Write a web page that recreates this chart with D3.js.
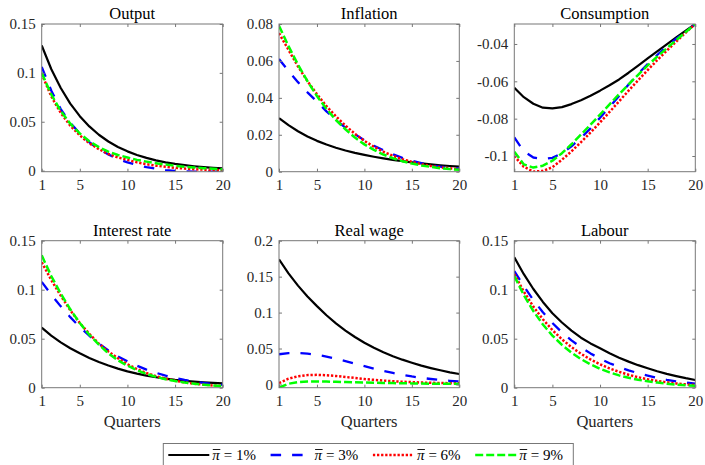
<!DOCTYPE html>
<html>
<head>
<meta charset="utf-8">
<script src="https://cdn.jsdelivr.net/npm/d3@7"></script>
<style>
  body { margin: 0; background: #fff; }
  svg { display: block; }
  svg text { font-family: "Liberation Serif", "Times New Roman", Times, "DejaVu Serif", serif; }
</style>
</head>
<body>
<svg id="chart" width="705" height="465"></svg>
<script>
// Impulse responses over 20 quarters for four steady-state inflation rates
const quarters = [1, 2, 3, 4, 5, 6, 7, 8, 9, 10, 11, 12, 13, 14, 15, 16, 17, 18, 19, 20];
const inflationTargets = ["1%", "3%", "6%", "9%"];
const xTicks = [1, 5, 10, 15, 20];

const outputPi1 = [0.128, 0.104, 0.0845, 0.0686, 0.0557, 0.0452, 0.0367, 0.0298, 0.0242, 0.0197, 0.0160, 0.0130, 0.0105, 0.0085, 0.0069, 0.0056, 0.0045, 0.0036, 0.0029, 0.0023];
const outputPi3 = [0.106, 0.082, 0.063, 0.049, 0.038, 0.029, 0.022, 0.0165, 0.012, 0.0085, 0.0058, 0.0036, 0.0019, 0.0006, -0.0003, -0.0008, -0.0010, -0.0011, -0.0011, -0.0010];
const outputPi6 = [0.099, 0.076, 0.059, 0.046, 0.036, 0.028, 0.022, 0.017, 0.0135, 0.011, 0.0085, 0.0066, 0.0051, 0.0039, 0.0029, 0.0021, 0.0015, 0.0010, 0.0006, 0.0003];
const outputPi9 = [0.100, 0.078, 0.061, 0.048, 0.038, 0.030, 0.024, 0.0195, 0.016, 0.0135, 0.011, 0.0092, 0.0076, 0.0062, 0.0050, 0.0040, 0.0032, 0.0025, 0.0019, 0.0014];

const inflationPi1 = [0.029, 0.0252, 0.0219, 0.0191, 0.0167, 0.0147, 0.0130, 0.0115, 0.0102, 0.0091, 0.0081, 0.0072, 0.0064, 0.0057, 0.0051, 0.0045, 0.0040, 0.0035, 0.0031, 0.0027];
const inflationPi3 = [0.061, 0.0545, 0.0485, 0.043, 0.038, 0.0327, 0.0280, 0.0239, 0.0203, 0.0170, 0.0141, 0.0116, 0.0094, 0.0075, 0.0059, 0.0046, 0.0035, 0.0027, 0.0021, 0.0016];
const inflationPi6 = [0.075, 0.066, 0.057, 0.049, 0.042, 0.0355, 0.030, 0.025, 0.0205, 0.0167, 0.0135, 0.0108, 0.0086, 0.0068, 0.0053, 0.0041, 0.0031, 0.0024, 0.0018, 0.0013];
const inflationPi9 = [0.079, 0.068, 0.058, 0.049, 0.041, 0.034, 0.028, 0.023, 0.0185, 0.0148, 0.0118, 0.0093, 0.0073, 0.0057, 0.0044, 0.0034, 0.0026, 0.0019, 0.0014, 0.0010];

const consumptionPi1 = [-0.0634, -0.0685, -0.0720, -0.0741, -0.0745, -0.0738, -0.0722, -0.0701, -0.0677, -0.0650, -0.0621, -0.0590, -0.0554, -0.0516, -0.0477, -0.0439, -0.0402, -0.0365, -0.0329, -0.0293];
const consumptionPi3 = [-0.0900, -0.0975, -0.1008, -0.1016, -0.1010, -0.0985, -0.0948, -0.0903, -0.0852, -0.0795, -0.0737, -0.0678, -0.0617, -0.0560, -0.0507, -0.0459, -0.0414, -0.0372, -0.0332, -0.0293];
const consumptionPi6 = [-0.1000, -0.1058, -0.1083, -0.1080, -0.1060, -0.1020, -0.0975, -0.0926, -0.0874, -0.0820, -0.0764, -0.0707, -0.0650, -0.0594, -0.0540, -0.0487, -0.0436, -0.0387, -0.0339, -0.0293];
const consumptionPi9 = [-0.0977, -0.1045, -0.1062, -0.1052, -0.1025, -0.0985, -0.0937, -0.0885, -0.0832, -0.0778, -0.0723, -0.0669, -0.0616, -0.0565, -0.0515, -0.0468, -0.0423, -0.0379, -0.0336, -0.0293];

const interestPi1 = [0.0612, 0.0532, 0.0463, 0.0403, 0.0351, 0.0304, 0.0263, 0.0227, 0.0195, 0.0167, 0.0144, 0.0124, 0.0107, 0.0092, 0.0079, 0.0070, 0.0062, 0.0055, 0.0050, 0.0045];
const interestPi3 = [0.108, 0.095, 0.083, 0.072, 0.062, 0.053, 0.045, 0.038, 0.032, 0.027, 0.0225, 0.0185, 0.0152, 0.0124, 0.0100, 0.0080, 0.0063, 0.0049, 0.0038, 0.0029];
const interestPi6 = [0.128, 0.110, 0.094, 0.079, 0.066, 0.055, 0.045, 0.037, 0.030, 0.024, 0.019, 0.015, 0.0118, 0.0092, 0.0071, 0.0054, 0.0041, 0.0031, 0.0023, 0.0017];
const interestPi9 = [0.135, 0.114, 0.096, 0.080, 0.066, 0.054, 0.044, 0.035, 0.028, 0.0225, 0.0178, 0.014, 0.011, 0.0087, 0.0068, 0.0053, 0.0041, 0.0031, 0.0023, 0.0017];

const realWagePi1 = [0.174, 0.1545, 0.1375, 0.1225, 0.109, 0.0963, 0.0850, 0.0750, 0.0660, 0.0580, 0.0510, 0.0448, 0.0393, 0.0345, 0.0302, 0.0262, 0.0228, 0.0197, 0.0169, 0.0145];
const realWagePi3 = [0.042, 0.0435, 0.0438, 0.0430, 0.0412, 0.0388, 0.0358, 0.0325, 0.0290, 0.0255, 0.0221, 0.0189, 0.0160, 0.0134, 0.0111, 0.0092, 0.0076, 0.0062, 0.0051, 0.0042];
const realWagePi6 = [0.002, 0.008, 0.0115, 0.013, 0.0134, 0.0128, 0.0118, 0.0105, 0.0090, 0.0076, 0.0064, 0.0054, 0.0045, 0.0038, 0.0032, 0.0027, 0.0023, 0.0020, 0.0018, 0.0016];
const realWagePi9 = [-0.0045, 0.0010, 0.0033, 0.0040, 0.0041, 0.0040, 0.0037, 0.0034, 0.0031, 0.0028, 0.0025, 0.0022, 0.0019, 0.0017, 0.0015, 0.0013, 0.0011, 0.0010, 0.0009, 0.0008];

const labourPi1 = [0.133, 0.1158, 0.1007, 0.0875, 0.0760, 0.0665, 0.0582, 0.0510, 0.0452, 0.0402, 0.0351, 0.0306, 0.0266, 0.0230, 0.0198, 0.0168, 0.0141, 0.0118, 0.0097, 0.0079];
const labourPi3 = [0.119, 0.1035, 0.0895, 0.077, 0.066, 0.0565, 0.0483, 0.0412, 0.0350, 0.0296, 0.0250, 0.0211, 0.0177, 0.0148, 0.0123, 0.0100, 0.0081, 0.0065, 0.0052, 0.0041];
const labourPi6 = [0.116, 0.0980, 0.0828, 0.0698, 0.0588, 0.0494, 0.0414, 0.0346, 0.0288, 0.0239, 0.0197, 0.0162, 0.0132, 0.0107, 0.0086, 0.0069, 0.0055, 0.0043, 0.0034, 0.0027];
const labourPi9 = [0.114, 0.0945, 0.0782, 0.0645, 0.0532, 0.0437, 0.0358, 0.0292, 0.0238, 0.0193, 0.0156, 0.0126, 0.0101, 0.0081, 0.0065, 0.0052, 0.0041, 0.0032, 0.0025, 0.0020];

// Panel definitions: title, series, y-range and y-ticks
const panels = [
  { title: "Output",        series: [outputPi1, outputPi3, outputPi6, outputPi9],                 yDomain: [-0.0011, 0.15],    yTicks: [0, 0.05, 0.1, 0.15] },
  { title: "Inflation",     series: [inflationPi1, inflationPi3, inflationPi6, inflationPi9],     yDomain: [0, 0.08],          yTicks: [0, 0.02, 0.04, 0.06, 0.08] },
  { title: "Consumption",   series: [consumptionPi1, consumptionPi3, consumptionPi6, consumptionPi9], yDomain: [-0.1084, -0.0293], yTicks: [-0.1, -0.08, -0.06, -0.04] },
  { title: "Interest rate", series: [interestPi1, interestPi3, interestPi6, interestPi9],         yDomain: [0, 0.15],          yTicks: [0, 0.05, 0.1, 0.15] },
  { title: "Real wage",     series: [realWagePi1, realWagePi3, realWagePi6, realWagePi9],         yDomain: [-0.0045, 0.2],     yTicks: [0, 0.05, 0.1, 0.15, 0.2] },
  { title: "Labour",        series: [labourPi1, labourPi3, labourPi6, labourPi9],                 yDomain: [0, 0.15],          yTicks: [0, 0.05, 0.1, 0.15] }
];

// Layout of the 2 x 3 grid of axes
const colX = [[41.7, 222.7], [279, 459.3], [514.3, 695.3]];
const rowY = [[24, 171.7], [240.7, 387.7]];

const seriesStyle = [
  { color: "#000000", dash: null,       width: 2.2 },
  { color: "#0000ff", dash: "10.5,11",  width: 2.3 },
  { color: "#ff0000", dash: "2.3,1.8",  width: 2.5 },
  { color: "#00ff00", dash: "8,3",      width: 2.5 }
];

const serifStack = '"Liberation Serif", "Times New Roman", Times, "DejaVu Serif", serif';
const axisColor = "#777777";
const tickTextColor = "#262626";
const tickFont = 15;
const titleFont = 16.5;

const svg = d3.select("#chart");

panels.forEach((p, i) => {
  const row = Math.floor(i / 3), col = i % 3;
  const [x0, x1] = colX[col];
  const [y0, y1] = rowY[row];

  const x = d3.scaleLinear().domain([1, 20]).range([x0, x1]);
  const y = d3.scaleLinear().domain(p.yDomain).range([y1, y0]);

  const g = svg.append("g");

  const clipId = "clip" + i;
  svg.append("clipPath").attr("id", clipId)
    .append("rect").attr("x", x0).attr("y", y0).attr("width", x1 - x0).attr("height", y1 - y0);

  // curves
  const line = d3.line().x((d, k) => x(quarters[k])).y(d => y(d));
  p.series.forEach((s, k) => {
    const st = seriesStyle[k];
    g.append("path")
      .attr("clip-path", `url(#${clipId})`)
      .attr("d", line(s))
      .attr("fill", "none")
      .attr("stroke", st.color)
      .attr("stroke-width", st.width)
      .attr("stroke-dasharray", st.dash)
      .attr("stroke-linejoin", "round");
  });

  // axes with inward ticks on all four sides
  const styleAxis = sel => {
    sel.attr("font-family", serifStack).attr("font-size", tickFont);
    sel.select(".domain").remove();
    sel.selectAll(".tick line").attr("stroke", axisColor);
    sel.selectAll(".tick text").attr("fill", tickTextColor);
  };

  g.append("g").attr("transform", `translate(0,${y1})`)
    .call(d3.axisBottom(x).tickValues(xTicks).tickSize(-3).tickPadding(7.5).tickFormat(d3.format("d")))
    .call(styleAxis);
  g.append("g").attr("transform", `translate(0,${y0})`)
    .call(d3.axisTop(x).tickValues(xTicks).tickSize(-3).tickFormat(""))
    .call(styleAxis);
  g.append("g").attr("transform", `translate(${x0},0)`)
    .call(d3.axisLeft(y).tickValues(p.yTicks).tickSize(-3).tickPadding(6).tickFormat(d => String(d)))
    .call(styleAxis);
  g.append("g").attr("transform", `translate(${x1},0)`)
    .call(d3.axisRight(y).tickValues(p.yTicks).tickSize(-3).tickFormat(""))
    .call(styleAxis);

  g.append("rect")
    .attr("x", x0).attr("y", y0).attr("width", x1 - x0).attr("height", y1 - y0)
    .attr("fill", "none").attr("stroke", axisColor).attr("stroke-width", 1);

  // title
  g.append("text")
    .attr("x", (x0 + x1) / 2).attr("y", y0 - 4.7)
    .attr("text-anchor", "middle")
    .attr("font-family", serifStack)
    .attr("font-size", titleFont)
    .attr("fill", "#000")
    .text(p.title);

  // x label on the bottom row
  if (row === 1) {
    g.append("text")
      .attr("x", (x0 + x1) / 2).attr("y", y1 + 39.5)
      .attr("text-anchor", "middle")
      .attr("font-family", serifStack)
      .attr("font-size", titleFont)
      .attr("fill", tickTextColor)
      .text("Quarters");
  }
});

// legend
const legend = svg.append("g");
legend.append("rect")
  .attr("x", 163.3).attr("y", 443.5).attr("width", 410).attr("height", 30)
  .attr("fill", "#fff").attr("stroke", axisColor).attr("stroke-width", 1);

const legendStep = 102.3;
inflationTargets.forEach((t, k) => {
  const st = seriesStyle[k];
  const lx = 168.3 + k * legendStep;
  legend.append("line")
    .attr("x1", lx).attr("x2", lx + 41).attr("y1", 455).attr("y2", 455)
    .attr("stroke", st.color).attr("stroke-width", st.width)
    .attr("stroke-dasharray", st.dash);
  const pi = legend.append("text")
    .attr("x", lx + 44).attr("y", 460)
    .attr("font-family", serifStack)
    .attr("font-size", 15)
    .attr("font-style", "italic")
    .attr("fill", "#000")
    .text("\u03C0");
  const piWidth = pi.node().getComputedTextLength();
  // bar over pi
  legend.append("line")
    .attr("x1", lx + 44.5).attr("x2", lx + 44 + piWidth + 0.5)
    .attr("y1", 449.5).attr("y2", 449.5)
    .attr("stroke", "#000").attr("stroke-width", 0.9);
  legend.append("text")
    .attr("x", lx + 44 + piWidth + 4).attr("y", 460)
    .attr("font-family", serifStack)
    .attr("font-size", 15)
    .attr("fill", "#000")
    .text("= " + t);
});
</script>
</body>
</html>
